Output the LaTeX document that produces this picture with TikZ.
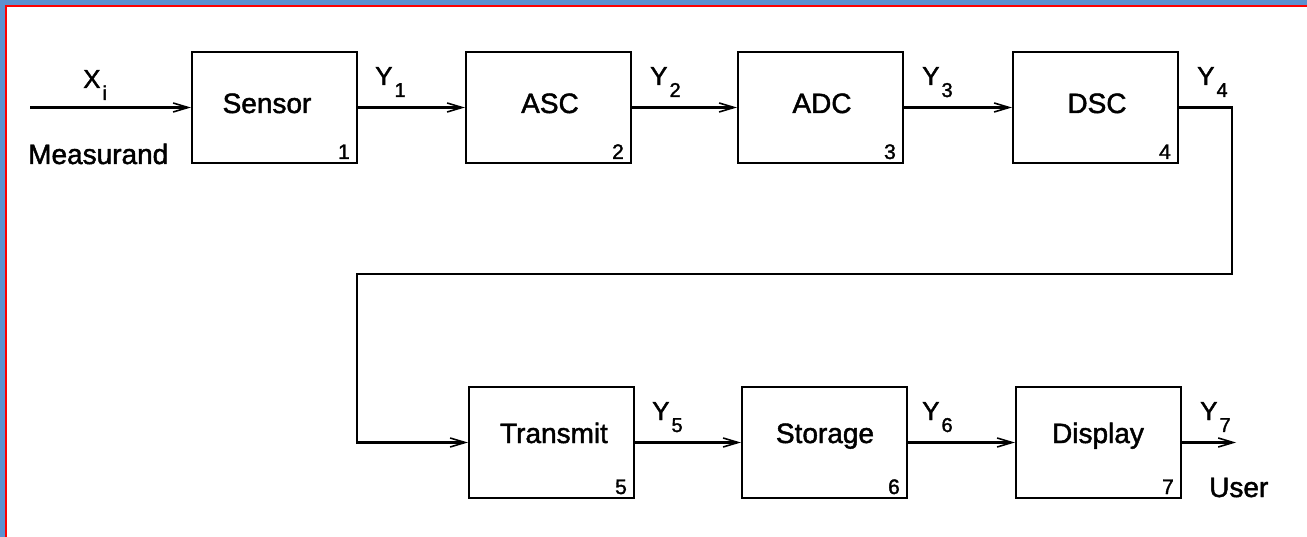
\documentclass[tikz,border=0pt]{standalone}
\usepackage{fontspec}
\setmainfont{Liberation Sans}[BoldFont={Liberation Sans},BoldFeatures={FakeBold=1.6}]
\usetikzlibrary{arrows.meta}
\definecolor{frameblue}{RGB}{92,145,208}
\newcommand{\sigl}[2]{#1\kern2pt\raisebox{-12pt}{\fontsize{20}{22}\selectfont #2}}
\tikzset{
  blk/.style={draw, line width=2.2pt, minimum width=165pt, minimum height=111pt, inner sep=0pt},
  blktext/.style={font=\fontsize{28}{32}\selectfont\bfseries, inner sep=0pt, anchor=base},
  blknum/.style={font=\fontsize{21}{24}\selectfont\bfseries, inner sep=0pt, anchor=base east},
  sig/.style={font=\fontsize{26}{30}\selectfont\bfseries, inner sep=0pt, anchor=base west},
  side/.style={font=\fontsize{28}{32}\selectfont\bfseries, inner sep=0pt, anchor=base west},
  wire/.style={line width=2.2pt},
  arr/.style={wire, -{Straight Barb[length=15pt,width=9pt,line width=1.6pt]}}
}
\begin{document}
\begin{tikzpicture}[x=1pt,y=-1pt]
\useasboundingbox (0,0) rectangle (1307,537);
% frame
\fill[white] (0,0) rectangle (1307,537);
\fill[frameblue] (0,0) rectangle (1307,5);
\fill[frameblue] (0,0) rectangle (5,537);
\fill[red] (5,5) rectangle (1307,7);
\fill[red] (5,5) rectangle (7,537);
% blocks
\node[blk] (b1) at (274.5,107.5) {};
\node[blk] (b2) at (548.5,107.5) {};
\node[blk] (b3) at (820.5,107.5) {};
\node[blk] (b4) at (1095.5,107.5) {};
\node[blk] (b5) at (551.5,442.5) {};
\node[blk] (b6) at (824.5,442.5) {};
\node[blk] (b7) at (1098.5,442.5) {};
% block texts
\node[blktext] (t1) at (267,113) {Sensor};
\node[blktext] (t2) at (550,113) {ASC};
\node[blktext] (t3) at (822,113) {ADC};
\node[blktext] (t4) at (1097,113) {DSC};
\node[blktext] (t5) at (554,443) {Transmit};
\node[blktext] (t6) at (825,443) {Storage};
\node[blktext] (t7) at (1098,443) {Display};
% block numbers
\node[blknum] (n1) at (350,159) {1};
\node[blknum] (n2) at (624,159) {2};
\node[blknum] (n3) at (896,159) {3};
\node[blknum] (n4) at (1171,159) {4};
\node[blknum] (n5) at (627,494) {5};
\node[blknum] (n6) at (900,494) {6};
\node[blknum] (n7) at (1174,494) {7};
% signal labels
\node[sig] (xi) at (83,88) {\sigl{X}{i}};
\node[sig] (y1) at (375,85) {\sigl{Y}{1}};
\node[sig] (y2) at (650,85) {\sigl{Y}{2}};
\node[sig] (y3) at (922,85) {\sigl{Y}{3}};
\node[sig] (y4) at (1197,85) {\sigl{Y}{4}};
\node[sig] (y5) at (652,420) {\sigl{Y}{5}};
\node[sig] (y6) at (922,420) {\sigl{Y}{6}};
\node[sig] (y7) at (1200,420) {\sigl{Y}{7}};
\node[side] (meas) at (28,164) {Measurand};
\node[side] (user) at (1209,497) {User};
% connector points
\coordinate (in) at (30,107.5);
\coordinate (c1) at (1232,107.5);
\coordinate (c2) at (1232,274);
\coordinate (c3) at (357,274);
\coordinate (c4) at (357,442.5);
\coordinate (out) at (1236,442.5);
% connectors
\draw[arr] (in) -- (b1.west);
\draw[arr] (b1.east) -- (b2.west);
\draw[arr] (b2.east) -- (b3.west);
\draw[arr] (b3.east) -- (b4.west);
\draw[arr] (b4.east) -- (c1) -- (c2) -- (c3) -- (c4) -- (b5.west);
\draw[arr] (b5.east) -- (b6.west);
\draw[arr] (b6.east) -- (b7.west);
\draw[arr] (b7.east) -- (out);
\end{tikzpicture}
\end{document}
